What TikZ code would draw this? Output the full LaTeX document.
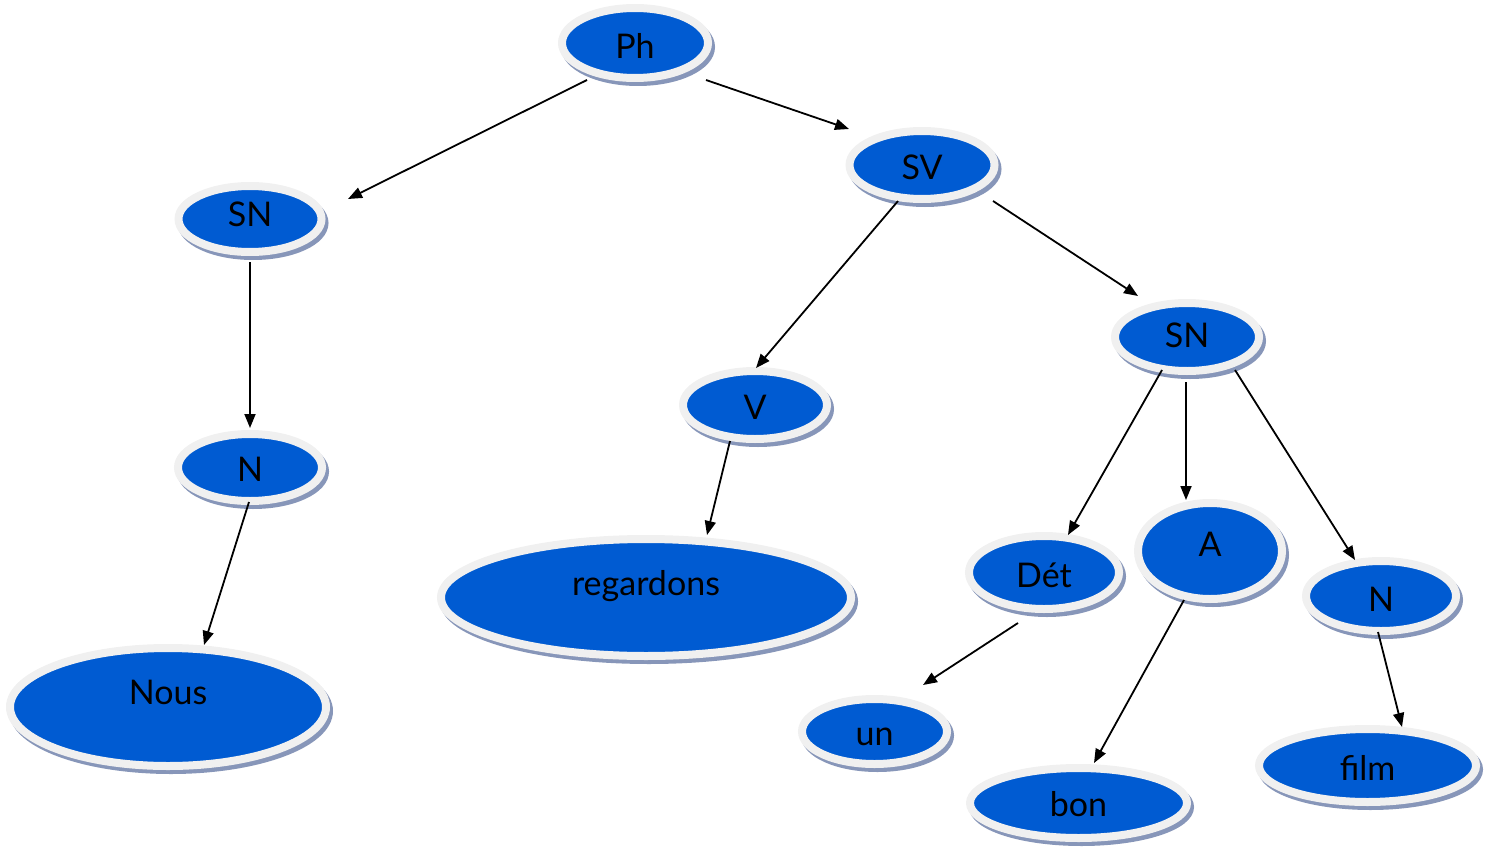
\documentclass[tikz,border=0pt]{standalone}
\usepackage{fontspec}
\setmainfont{Lato}
\usetikzlibrary{shapes.geometric,arrows.meta,shadows}
\definecolor{bubfill}{RGB}{0,91,210}
\definecolor{bubring}{RGB}{240,240,240}
\definecolor{bubshadow}{RGB}{135,150,185}
\tikzset{
  bub/.style={ellipse, inner sep=0pt, outer sep=0pt, fill=bubfill, draw=bubring,
    line width=8pt,
    general shadow={shadow xshift=3pt, shadow yshift=-4pt, fill=bubshadow, draw=bubshadow, line width=8pt},
    font=\fontsize{34}{40}\selectfont, text height=24.4pt, text depth=0pt},
  arr/.style={line width=1.8pt, -{Triangle[length=14pt,width=11pt]}},
}
\begin{document}
\begin{tikzpicture}[x=1pt,y=-1pt]
\useasboundingbox (0,0) rectangle (1493,848);
% nodes
\node[bub, minimum width=146pt, minimum height=70pt] (ph)   at (635,43)   {\raisebox{-3.5pt}{Ph}};
\node[bub, minimum width=143pt, minimum height=66pt] (sn1)  at (250,219)  {\raisebox{4.5pt}{SN}};
\node[bub, minimum width=144pt, minimum height=67pt] (n1)   at (250,467.5){\raisebox{-2pt}{N}};
\node[bub, minimum width=316pt, minimum height=118pt](nous) at (168,707)  {\raisebox{14.5pt}{Nous}};
\node[bub, minimum width=145pt, minimum height=68pt] (sv)   at (922,165)  {\raisebox{-2.5pt}{SV}};
\node[bub, minimum width=144pt, minimum height=68pt] (v)    at (755,405)  {\raisebox{-2.5pt}{V}};
\node[bub, minimum width=410pt, minimum height=117pt](reg)  at (646,597.5){\raisebox{14.5pt}{regardons}};
\node[bub, minimum width=144pt, minimum height=68pt] (sn2)  at (1187,337) {\raisebox{1.5pt}{SN}};
\node[bub, minimum width=150pt, minimum height=73pt] (det)  at (1044,572.5){\raisebox{-3pt}{Dét}};
\node[bub, minimum width=144pt, minimum height=96pt] (a)    at (1210,551) {\raisebox{6.5pt}{A}};
\node[bub, minimum width=150pt, minimum height=70pt] (n2)   at (1381,596) {\raisebox{-3.5pt}{N}};
\node[bub, minimum width=145pt, minimum height=65pt] (un)   at (874.5,731.5){\raisebox{-1.5pt}{un}};
\node[bub, minimum width=217pt, minimum height=70pt] (bon)  at (1078.5,803){\raisebox{-1.5pt}{bon}};
\node[bub, minimum width=217pt, minimum height=73pt] (film) at (1367.5,765.5){\raisebox{-2.5pt}{film}};
% connector ends
\coordinate (ph-sn1-s) at (587,80);   \coordinate (ph-sn1-e) at (348,199);
\coordinate (ph-sv-s)  at (706,80);   \coordinate (ph-sv-e)  at (849,129);
\coordinate (sn1-n1-s) at (250,262);  \coordinate (sn1-n1-e) at (250,428);
\coordinate (n1-nous-s) at (249,502); \coordinate (n1-nous-e) at (204,645);
\coordinate (sv-v-s)   at (898,201);  \coordinate (sv-v-e)   at (756,368);
\coordinate (sv-sn2-s) at (993,201);  \coordinate (sv-sn2-e) at (1138,296);
\coordinate (v-reg-s)  at (730,441);  \coordinate (v-reg-e)  at (707,535);
\coordinate (sn2-det-s) at (1162,370);\coordinate (sn2-det-e) at (1068,535);
\coordinate (sn2-a-s)  at (1186,382); \coordinate (sn2-a-e)  at (1186,500);
\coordinate (sn2-n2-s) at (1235,370); \coordinate (sn2-n2-e) at (1355,560);
\coordinate (det-un-s) at (1018,623); \coordinate (det-un-e) at (923,685);
\coordinate (a-bon-s)  at (1184,600); \coordinate (a-bon-e)  at (1094,763);
\coordinate (n2-film-s) at (1378,632);\coordinate (n2-film-e) at (1402,727);
% connectors
\draw[arr] (ph-sn1-s) -- (ph-sn1-e);
\draw[arr] (ph-sv-s) -- (ph-sv-e);
\draw[arr] (sn1-n1-s) -- (sn1-n1-e);
\draw[arr] (n1-nous-s) -- (n1-nous-e);
\draw[arr] (sv-v-s) -- (sv-v-e);
\draw[arr] (sv-sn2-s) -- (sv-sn2-e);
\draw[arr] (v-reg-s) -- (v-reg-e);
\draw[arr] (sn2-det-s) -- (sn2-det-e);
\draw[arr] (sn2-a-s) -- (sn2-a-e);
\draw[arr] (sn2-n2-s) -- (sn2-n2-e);
\draw[arr] (det-un-s) -- (det-un-e);
\draw[arr] (a-bon-s) -- (a-bon-e);
\draw[arr] (n2-film-s) -- (n2-film-e);
\end{tikzpicture}
\end{document}
